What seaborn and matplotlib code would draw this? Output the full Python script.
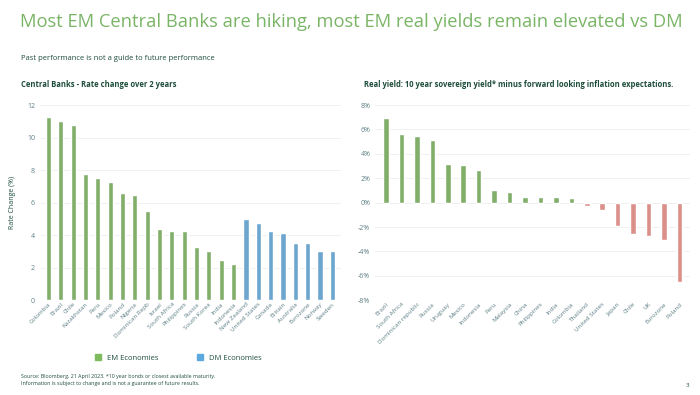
import seaborn as sns
import matplotlib.pyplot as plt
import matplotlib.patches as mpatches
import pandas as pd

# Left panel: policy rate change over 2 years
em_countries = ['Colombia', 'Brazil', 'Chile', 'Kazakhstan', 'Peru', 'Mexico', 'Poland', 'Nigeria',
                'Dominican Repb', 'Israel', 'South Africa', 'Philippines', 'Russia', 'South Korea',
                'India', 'Indonesia']
em_changes = [11.25, 11.0, 10.75, 7.75, 7.5, 7.25, 6.6, 6.5, 5.5, 4.4, 4.25, 4.25, 3.25, 3.0, 2.5, 2.25]
dm_countries = ['New Zealand', 'United States', 'Canada', 'Britain', 'Australia', 'Eurozone',
                'Norway', 'Sweden']
dm_changes = [5.0, 4.75, 4.25, 4.15, 3.5, 3.5, 3.0, 3.0]

# Right panel: real yields
ry_countries = ['Brazil', 'South Africa', 'Dominican republic', 'Russia', 'Uruguay', 'Mexico',
                'Indonesia', 'Peru', 'Malaysia', 'China', 'Philippines', 'India', 'Colombia',
                'Thailand', 'United States', 'Japan', 'Chile', 'UK', 'Eurozone', 'Poland']
ry_values = [6.9, 5.6, 5.45, 5.15, 3.2, 3.05, 2.7, 1.05, 0.85, 0.5, 0.5, 0.45, 0.4,
             -0.3, -0.6, -1.9, -2.6, -2.7, -3.1, -6.5]

GREEN = '#7dbb5e'
BLUE = '#5ba9df'
RED = '#e8847b'
TITLE_GREEN = '#7ab566'
DARK = '#1d4d3a'
TICK = '#5d7f86'

sns.set_theme(style='white')
plt.rcParams['font.family'] = ['Open Sans', 'DejaVu Sans']

left = pd.DataFrame({
    'country': em_countries + dm_countries,
    'change': em_changes + dm_changes,
    'group': ['EM Economies'] * len(em_countries) + ['DM Economies'] * len(dm_countries),
})
right = pd.DataFrame({'country': ry_countries, 'value': ry_values})
right['sign'] = ['pos' if v >= 0 else 'neg' for v in ry_values]

fig = plt.figure(figsize=(7, 3.95), dpi=100)
fig.patch.set_facecolor('white')

fig.text(0.028, 0.944, 'Most EM Central Banks are hiking, most EM real yields remain elevated vs DM',
         fontsize=13.2, color=TITLE_GREEN, va='center')
fig.text(0.03, 0.853, 'Past performance is not a guide to future performance',
         fontsize=5.5, color=DARK, va='center')
fig.text(0.03, 0.785, 'Central Banks - Rate change over 2 years',
         fontsize=5.5, color=DARK, fontweight='bold', va='center')
fig.text(0.52, 0.785, 'Real yield: 10 year sovereign yield* minus forward looking inflation expectations.',
         fontsize=5.5, color=DARK, fontweight='bold', va='center')

ax1 = fig.add_axes([0.057, 0.24, 0.43, 0.494])
sns.barplot(data=left, x='country', y='change', hue='group',
            palette={'EM Economies': GREEN, 'DM Economies': BLUE},
            dodge=False, width=0.42, legend=False, ax=ax1)
ax1.set_ylim(0, 12)
ax1.set_yticks(range(0, 13, 2))
ax1.set_xlim(-0.7, len(left) - 0.3)
ax1.set_xlabel('')
ax1.set_ylabel('Rate Change (%)', fontsize=5, color=DARK, labelpad=8)
ax1.tick_params(axis='y', labelsize=5, colors=TICK, length=0)
ax1.tick_params(axis='x', labelsize=4.5, colors=TICK, length=0, rotation=45, pad=1)
for lbl in ax1.get_xticklabels():
    lbl.set_ha('right')
    lbl.set_rotation_mode('anchor')
ax1.yaxis.grid(True, color='#eeeeee', linewidth=0.6)
ax1.set_axisbelow(True)
sns.despine(ax=ax1, left=True, bottom=True)

handles = [mpatches.Patch(color=GREEN, label='EM Economies'),
           mpatches.Patch(color=BLUE, label='DM Economies')]
fig.legend(handles=handles, loc='center', bbox_to_anchor=(0.255, 0.093), ncol=2,
           frameon=False, fontsize=5.5, handlelength=0.8, handleheight=0.8,
           columnspacing=5, labelcolor=DARK)

ax2 = fig.add_axes([0.536, 0.24, 0.45, 0.494])
sns.barplot(data=right, x='country', y='value', hue='sign',
            palette={'pos': GREEN, 'neg': RED},
            dodge=False, width=0.36, legend=False, ax=ax2)
ax2.set_ylim(-8, 8)
ax2.set_yticks(range(-8, 9, 2))
ax2.set_yticklabels([f'{t}%' for t in range(-8, 9, 2)])
ax2.set_xlim(-0.7, len(right) - 0.3)
ax2.set_xlabel('')
ax2.set_ylabel('')
ax2.tick_params(axis='y', labelsize=5, colors=TICK, length=0)
ax2.tick_params(axis='x', labelsize=4.5, colors=TICK, length=0, rotation=45, pad=1)
for lbl in ax2.get_xticklabels():
    lbl.set_ha('right')
    lbl.set_rotation_mode('anchor')
ax2.yaxis.grid(True, color='#eeeeee', linewidth=0.6)
ax2.set_axisbelow(True)
sns.despine(ax=ax2, left=True, bottom=True)

fig.text(0.03, 0.038,
         'Source: Bloomberg, 21 April 2023. *10 year bonds or closest available maturity.\n'
         'Information is subject to change and is not a guarantee of future results.',
         fontsize=3.8, color=DARK, va='center', linespacing=1.3)
fig.text(0.985, 0.025, '3', fontsize=4.5, color=DARK, ha='right', va='center')

fig.savefig('out.png', dpi=100)
